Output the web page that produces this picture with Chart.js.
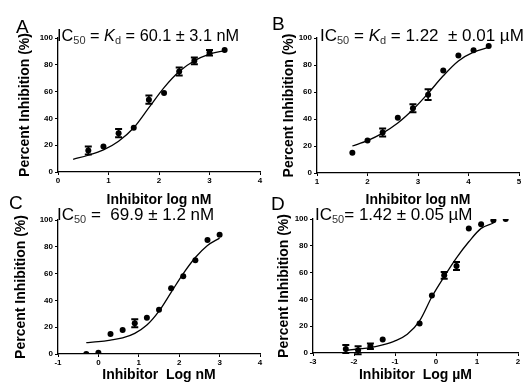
<!DOCTYPE html>
<html>
<head>
<meta charset="utf-8">
<script src="https://cdn.jsdelivr.net/npm/chart.js@4.4.1/dist/chart.umd.min.js"></script>
<style>
    html, body { margin: 0; padding: 0; background: #fff; }
    body {
        width: 527px;
        height: 387px;
        position: relative;
        overflow: hidden;
        font-family: "Liberation Sans", Arial, sans-serif;
        color: #000;
    }
    .panel { position: absolute; }
    .panel canvas { display: block; }
    .letter { position: absolute; font-size: 19px; line-height: 19px; }
    .ic { position: absolute; font-size: 17px; line-height: 17px; white-space: pre; }
    .ic sub { font-size: 11px; line-height: 0; vertical-align: -3px; color: #333; }
</style>
</head>
<body>

<div class="panel" id="pA" style="left:0;top:0"><canvas id="cA" width="264" height="210"></canvas></div>
<div class="panel" id="pB" style="left:264px;top:0"><canvas id="cB" width="263" height="210"></canvas></div>
<div class="panel" id="pC" style="left:0;top:190px"><canvas id="cC" width="264" height="197"></canvas></div>
<div class="panel" id="pD" style="left:264px;top:190px"><canvas id="cD" width="263" height="197"></canvas></div>

<div class="letter" style="left:16px;top:17px">A</div>
<div class="ic" style="left:57px;top:27px;font-size:16.3px">IC<sub>50</sub> = <i>K</i><sub>d</sub> = 60.1 ± 3.1 nM</div>

<div class="letter" style="left:272px;top:14px">B</div>
<div class="ic" style="left:320px;top:27px">IC<sub>50</sub> = <i>K</i><sub>d</sub> = 1.22  ± 0.01 µM</div>

<div class="letter" style="left:9px;top:193px">C</div>
<div class="ic" style="left:57px;top:206px">IC<sub>50</sub> =  69.9 ± 1.2 nM</div>

<div class="letter" style="left:271px;top:194px">D</div>
<div class="ic" style="left:315px;top:206px">IC<sub>50</sub>= 1.42 ± 0.05 µM</div>

<script>
// Panel A: measured points, SEM and fitted curve
const aX = [0.6, 0.9, 1.2, 1.5, 1.8, 2.1, 2.4, 2.7, 3.0, 3.3];
const aY = [16, 19, 29, 33, 54, 59, 75, 83, 89, 91];
const aErr = [3, 0, 3, 0, 3, 0, 3, 2.5, 2, 0];
const aFitX = [0.3, 0.6, 0.9, 1.2, 1.5, 1.8, 2.1, 2.4, 2.7, 3.0, 3.3];
const aFitY = [9.5, 12.5, 16.5, 23, 33, 48, 63, 75, 83, 88, 90.5];

// Panel B
const bX = [1.7, 2.0, 2.3, 2.6, 2.9, 3.2, 3.5, 3.8, 4.1, 4.4];
const bY = [15, 24, 30, 41, 48, 58, 76, 87, 91, 94];
const bErr = [0, 0, 3, 0, 3, 4, 0, 0, 0, 0];
const bFitX = [1.7, 2.0, 2.3, 2.6, 2.9, 3.2, 3.5, 3.8, 4.1, 4.4];
const bFitY = [20, 24, 29.5, 37, 47, 59, 72, 83, 89.5, 93];

// Panel C
const cX = [-0.3, 0.0, 0.3, 0.6, 0.9, 1.2, 1.5, 1.8, 2.1, 2.4, 2.7, 3.0];
const cY = [0, 1, 15, 18, 23, 27, 33, 49, 58, 70, 85, 89];
const cErr = [0, 0, 0, 0, 3, 0, 0, 0, 0, 0, 0, 0];
const cFitX = [-0.3, 0.0, 0.3, 0.6, 0.9, 1.2, 1.5, 1.8, 2.1, 2.4, 2.7, 3.0];
const cFitY = [8.5, 9.2, 10.4, 12, 15.4, 21.6, 32, 46, 60, 72, 81, 86.5];

// Panel D
const dX = [-2.2, -1.9, -1.6, -1.3, -0.4, -0.1, 0.2, 0.5, 0.8, 1.1, 1.4, 1.7];
const dY = [3, 2, 5, 10, 22, 43, 58, 65, 93, 96, 99, 100];
const dErr = [3, 3, 2, 0, 0, 0, 2.5, 3, 0, 0, 0, 0];
const dFitX = [-2.2, -1.9, -1.6, -1.3, -1.0, -0.7, -0.4, -0.1, 0.2, 0.5, 0.8, 1.1, 1.4];
const dFitY = [2, 3, 4, 6, 9, 14, 24, 42, 57, 71, 83, 93, 97];

// Axis ranges and titles
const yTicks = [0, 100, 20];
const xRangeA = [0, 4];
const xRangeB = [1, 5];
const xRangeC = [-1, 4];
const xRangeD = [-3, 2];
const yTitle = 'Percent Inhibition (%)';
const xTitleA = 'Inhibitor log nM';
const xTitleB = 'Inhibitor log nM';
const xTitleC = 'Inhibitor  Log nM';
const xTitleD = 'Inhibitor  Log µM';

function toPoints(xs, ys) {
    return xs.map((x, i) => ({ x, y: ys[i] }));
}

// Draws vertical SEM bars with caps on the points dataset
const errorBarPlugin = {
    id: 'errorBars',
    afterDatasetsDraw(chart, args, opts) {
        const errs = opts.errors;
        if (!errs) return;

        const meta = chart.getDatasetMeta(1);
        const values = chart.data.datasets[1].data;
        const yScale = chart.scales.y;
        const ctx = chart.ctx;

        ctx.save();
        ctx.strokeStyle = '#000';

        meta.data.forEach((pt, i) => {
            const e = errs[i];
            if (!e) return;

            const top = yScale.getPixelForValue(values[i].y + e);
            const bot = yScale.getPixelForValue(values[i].y - e);

            ctx.lineWidth = 1.6;
            ctx.beginPath();
            ctx.moveTo(pt.x, top);
            ctx.lineTo(pt.x, bot);
            ctx.stroke();

            ctx.lineWidth = 2;
            ctx.beginPath();
            ctx.moveTo(pt.x - 3.5, top);
            ctx.lineTo(pt.x + 3.5, top);
            ctx.moveTo(pt.x - 3.5, bot);
            ctx.lineTo(pt.x + 3.5, bot);
            ctx.stroke();
        });

        ctx.restore();
    },
};

function makeChart(canvasId, cfg) {
    const ctx = document.getElementById(canvasId).getContext('2d');
    const tickFont = { family: '"Liberation Sans", Arial, sans-serif', size: 8, weight: 'bold' };
    const titleFont = { family: '"Liberation Sans", Arial, sans-serif', size: 14, weight: 'bold' };

    return new Chart(ctx, {
        type: 'scatter',
        data: {
            datasets: [
                {
                    label: 'fit',
                    data: toPoints(cfg.fitX, cfg.fitY),
                    showLine: true,
                    borderColor: '#000',
                    borderWidth: 1.3,
                    pointRadius: 0,
                    cubicInterpolationMode: 'monotone',
                },
                {
                    label: 'data',
                    data: toPoints(cfg.x, cfg.y),
                    showLine: false,
                    pointRadius: 3,
                    backgroundColor: '#000',
                    borderColor: '#000',
                    borderWidth: 0,
                },
            ],
        },
        options: {
            responsive: false,
            animation: false,
            events: [],
            layout: {
                padding: { left: 0, top: cfg.padTop, right: cfg.padRight, bottom: 0 },
            },
            plugins: {
                legend: { display: false },
                tooltip: { enabled: false },
                errorBars: { errors: cfg.err },
            },
            scales: {
                x: {
                    type: 'linear',
                    min: cfg.xRange[0],
                    max: cfg.xRange[1],
                    afterFit(scale) { scale.height = cfg.xHeight; },
                    ticks: {
                        stepSize: 1,
                        color: '#000',
                        font: tickFont,
                        padding: 1,
                        maxRotation: 0,
                    },
                    grid: {
                        display: true,
                        drawOnChartArea: false,
                        drawTicks: true,
                        tickLength: 3,
                        color: '#000',
                    },
                    border: { display: true, color: '#000', width: 1.3 },
                    title: {
                        display: true,
                        text: cfg.xTitle,
                        color: '#000',
                        font: titleFont,
                        padding: { top: 0, bottom: cfg.xTitlePad },
                    },
                },
                y: {
                    min: yTicks[0],
                    max: yTicks[1],
                    afterFit(scale) { scale.width = cfg.yWidth; },
                    ticks: {
                        stepSize: yTicks[2],
                        color: '#000',
                        font: tickFont,
                        padding: 2,
                    },
                    grid: {
                        display: true,
                        drawOnChartArea: false,
                        drawTicks: true,
                        tickLength: 3,
                        color: '#000',
                    },
                    border: { display: true, color: '#000', width: 1.3 },
                    title: {
                        display: true,
                        text: yTitle,
                        color: '#000',
                        font: titleFont,
                        padding: { top: cfg.yTitlePad, bottom: 0 },
                    },
                },
            },
        },
        plugins: [errorBarPlugin],
    });
}

makeChart('cA', {
    x: aX, y: aY, err: aErr, fitX: aFitX, fitY: aFitY,
    xRange: xRangeA, xTitle: xTitleA,
    padTop: 38, padRight: 3, yWidth: 58, xHeight: 38,
    yTitlePad: 17, xTitlePad: 1.6,
});

makeChart('cB', {
    x: bX, y: bY, err: bErr, fitX: bFitX, fitY: bFitY,
    xRange: xRangeB, xTitle: xTitleB,
    padTop: 38, padRight: 8, yWidth: 53, xHeight: 37,
    yTitlePad: 17, xTitlePad: 1.6,
});

makeChart('cC', {
    x: cX, y: cY, err: cErr, fitX: cFitX, fitY: cFitY,
    xRange: xRangeC, xTitle: xTitleC,
    padTop: 30, padRight: 4, yWidth: 58, xHeight: 33,
    yTitlePad: 13, xTitlePad: 3.6,
});

makeChart('cD', {
    x: dX, y: dY, err: dErr, fitX: dFitX, fitY: dFitY,
    xRange: xRangeD, xTitle: xTitleD,
    padTop: 29, padRight: 9, yWidth: 49, xHeight: 34,
    yTitlePad: 11.6, xTitlePad: 3.6,
});
</script>
</body>
</html>
